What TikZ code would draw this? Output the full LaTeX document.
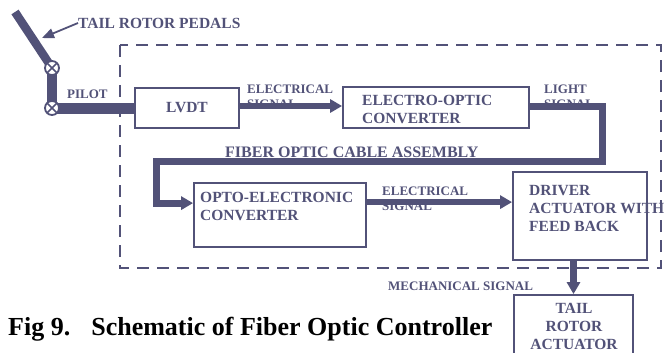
\documentclass[tikz,border=0pt]{standalone}
\usepackage{fontspec}
\setmainfont{Liberation Serif}
\usetikzlibrary{arrows.meta,calc,backgrounds}
\definecolor{ink}{RGB}{82,82,120}
\begin{document}
\begin{tikzpicture}[x=1pt,y=-1pt,
  box/.style={draw=ink,line width=1.8pt,fill=white,inner sep=0pt},
  big/.style={text=ink,font=\fontsize{15.5}{18}\selectfont\bfseries,inner sep=0pt,align=left},
  sml/.style={text=ink,font=\fontsize{13}{14.5}\selectfont\bfseries,inner sep=0pt,align=left},
  sig/.style={draw=ink,line width=6pt,-{Triangle[length=12pt,width=13pt]}},
  cable/.style={draw=ink,line width=7pt,line join=miter,-{Triangle[length=12pt,width=13pt]}},
  bar/.style={draw=ink,line width=10pt},
  joint/.style={circle,draw=ink,fill=white,line width=1.8pt,minimum size=14pt,inner sep=0pt,
     path picture={\draw[ink,line width=1.5pt] (path picture bounding box.north west)--(path picture bounding box.south east) (path picture bounding box.north east)--(path picture bounding box.south west);}},
  frame/.style={draw=ink,line width=2.5pt,dash pattern=on 12pt off 8pt},
]
\useasboundingbox (0,0) rectangle (664,353);

% boxes
\node[box,big,minimum width=104pt,minimum height=40pt] (lvdt) at (187,108) {LVDT};
\node[box,minimum width=186pt,minimum height=41pt] (eo) at (436,107.5) {};
\node[big,anchor=north west] (eotxt) at (362,95) {ELECTRO-OPTIC\\CONVERTER};
\node[box,minimum width=172pt,minimum height=64pt] (oe) at (280,215) {};
\node[big,anchor=north west] (oetxt) at (200,192) {OPTO-ELECTRONIC\\CONVERTER};
\node[box,minimum width=134pt,minimum height=88pt] (drv) at (580,216) {};
\node[big,anchor=north west] (drvtxt) at (529,185) {DRIVER\\ACTUATOR WITH\\FEED BACK};
\node[box,minimum width=119pt,minimum height=80pt] (tail) at (573.5,335) {};
\node[big,align=center,anchor=north] (tailtxt) at (574,303) {TAIL\\ROTOR\\ACTUATOR};

% labels
\node[big,anchor=west] (pedlbl) at (78,23) {TAIL ROTOR PEDALS};
\node[sml,anchor=north west] (el1) at (247,85) {ELECTRICAL\\SIGNAL};
\node[sml,anchor=north west] (lt) at (544,85) {LIGHT\\SIGNAL};
\node[sml,anchor=north west] (el2) at (382,187) {ELECTRICAL\\SIGNAL};
\node[sml,anchor=west] (mech) at (388,286.5) {MECHANICAL SIGNAL};
\node[text=ink,font=\fontsize{16}{16}\selectfont\bfseries,inner sep=0pt,anchor=west] (fib) at (225,152.5) {FIBER OPTIC CABLE ASSEMBLY};
\node[text=black,font=\fontsize{26}{30}\selectfont\bfseries,inner sep=0pt,anchor=base west] (cap) at (8,335) {Fig 9.\hspace{21pt}Schematic of Fiber Optic Controller};

% pedal joints
\node[joint] (j1) at (52,68) {};
\node[joint] (j2) at (52,108) {};
\coordinate (pedtop) at (15,12);
\coordinate (pedarrow) at (42,38);

\begin{scope}[on background layer]
\draw[frame] (120,45) rectangle (661,268);
\node[sml,anchor=north west] (pilot) at (67,90) {PILOT\\INPUT};
\draw[bar,line width=8.5pt] (pedtop) -- (j1.center);
\draw[bar] (j1.center) -- (j2.center);
\draw[bar,line width=11pt] (j2.center) -- (lvdt.west);
\end{scope}

% connectors
\draw[draw=ink,line width=1.8pt,-{Triangle[length=12pt,width=10pt]}] (pedlbl.west) -- (pedarrow);
\coordinate (lvout) at ($(lvdt.east)+(0,-2)$);
\draw[sig] (lvout) -- (lvout -| eo.west);
\coordinate (eoout) at ($(eo.east)+(0,-1)$);
\coordinate (oein) at ($(oe.north west)+(0,21)$);
\draw[cable] (eoout) -| ++(73,55) -| ($(oein)+(-37,0)$) -- (oein);
\coordinate (oeout) at ($(oe.north east)+(0,20)$);
\draw[sig] (oeout) -- (oeout -| drv.west);
\draw[sig,line width=7pt] (tail.north |- drv.south) -- (tail.north);
\end{tikzpicture}
\end{document}
